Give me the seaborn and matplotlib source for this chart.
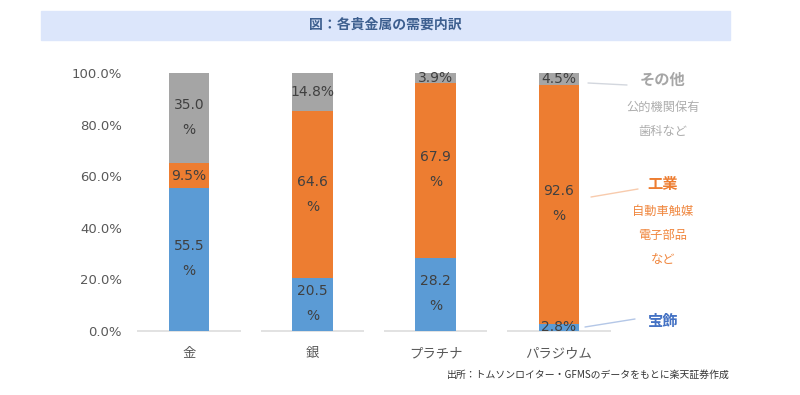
import pandas as pd
import matplotlib.pyplot as plt
from matplotlib.patches import Rectangle
import seaborn as sns

# Data: share of demand by use (%)
metals = ['金', '銀', 'プラチナ', 'パラジウム']
jewelry = [55.5, 20.5, 28.2, 2.8]
industry = [9.5, 64.6, 67.9, 92.6]
other = [35.0, 14.8, 3.9, 4.5]
yticks = [0, 20, 40, 60, 80, 100]

blue = '#5b9bd5'
orange = '#ed7d31'
gray = '#a5a5a5'
jp = ['Noto Sans CJK JP', 'DejaVu Sans']

sns.set_theme(style='white')
plt.rcParams['font.family'] = ['DejaVu Sans', 'Noto Sans CJK JP']

W, H = 800, 395


def px(x, y):
    # image pixel coords -> figure fraction
    return x / W, 1 - y / H


df = pd.DataFrame({'metal': metals, 'jewelry': jewelry,
                   'industry': industry, 'other': other})
df['mid'] = df['jewelry'] + df['industry']
df['top'] = df['mid'] + df['other']

fig = plt.figure(figsize=(8, 3.95), dpi=100)
ax = fig.add_axes([127.5 / W, 64 / H, 493 / W, 258 / H])

# stacked bars drawn as cumulative totals, back to front
for col, c in [('top', gray), ('mid', orange), ('jewelry', blue)]:
    sns.barplot(data=df, x='metal', y=col, color=c, width=0.33,
                saturation=1, linewidth=0, ax=ax)

ax.set_xlim(-0.5, 3.5)
ax.set_ylim(0, 100)
ax.set_yticks(yticks)
ax.set_yticklabels([f'{t:.1f}%' for t in yticks], fontsize=9.5,
                   color='#595959')
ax.set_xticks(range(len(metals)))
ax.set_xticklabels(metals, fontsize=9.6, color='#595959', family=jp)
ax.tick_params(axis='y', length=0, pad=4)
ax.tick_params(axis='x', length=0, pad=11)
ax.set_xlabel('')
ax.set_ylabel('')
for s in ax.spines.values():
    s.set_visible(False)

# baseline segments under each category
for i in range(len(metals)):
    ax.hlines(0, i - 0.42, i + 0.42, color='#dddddd', lw=1.2, zorder=0,
              clip_on=False)

# segment labels
for i in range(len(metals)):
    bottom = 0
    for v in [jewelry[i], industry[i], other[i]]:
        cy = bottom + v / 2
        if v >= 15:
            ax.annotate(f'{v:.1f}', (i, cy), xytext=(0, 9.5),
                        textcoords='offset points', ha='center', va='center',
                        fontsize=10, color='#404040')
            ax.annotate('%', (i, cy), xytext=(0, -8.5),
                        textcoords='offset points', ha='center', va='center',
                        fontsize=10, color='#404040')
        else:
            ax.text(i, cy, f'{v:.1f}%', ha='center', va='center',
                    fontsize=10, color='#404040')
        bottom += v

# title band
fig.patches.append(Rectangle(px(41, 40), 689 / W, 29.3 / H,
                             transform=fig.transFigure, color='#dce6fb',
                             zorder=0))
fig.text(*px(385, 25), '図：各貴金属の需要内訳', ha='center', va='center',
         fontsize=10, fontweight='bold', color='#3d5f8f', family=jp)

# right-side legend notes
notes = [
    ('その他', 80, 11, 'bold', '#a6a6a6'),
    ('公的機関保有', 107, 8.8, 'normal', '#adadad'),
    ('歯科など', 131, 8.8, 'normal', '#adadad'),
    ('工業', 184, 11, 'bold', '#ed7d31'),
    ('自動車触媒', 211, 8.8, 'normal', '#f0873f'),
    ('電子部品', 235, 8.8, 'normal', '#f0873f'),
    ('など', 259, 8.8, 'normal', '#f0873f'),
    ('宝飾', 321, 11, 'bold', '#4472c4'),
]
for txt, y, fs, fw, c in notes:
    fig.text(*px(663, y), txt, ha='center', va='center', fontsize=fs,
             fontweight=fw, color=c, family=jp)

connectors = [
    ((588, 83), (627, 85), '#d3d7de'),
    ((591, 197), (638, 189), '#f8cbad'),
    ((585, 327), (635, 319), '#b4c7e7'),
]
for (x0, y0), (x1, y1), c in connectors:
    fig.add_artist(plt.Line2D([x0 / W, x1 / W], [1 - y0 / H, 1 - y1 / H],
                              transform=fig.transFigure, color=c, lw=1))

# source
fig.text(*px(730, 375), '出所：トムソンロイター・GFMSのデータをもとに楽天証券作成',
         ha='right', va='center', fontsize=7.1, color='#333333', family=jp)

fig.savefig('out.png', dpi=100)
